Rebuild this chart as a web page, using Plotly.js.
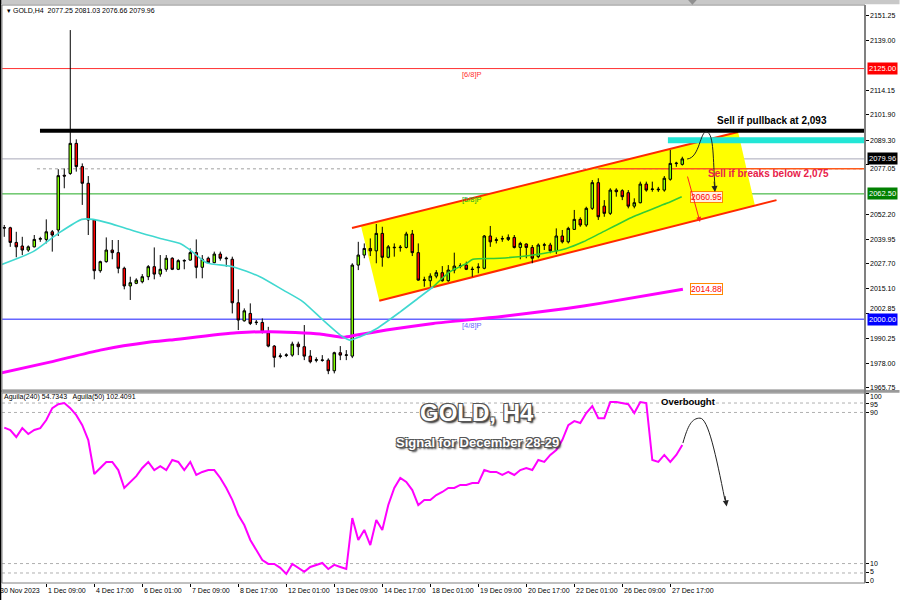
<!DOCTYPE html>
<html><head><meta charset="utf-8">
<script src="https://cdn.plot.ly/plotly-3.0.1.min.js"></script>
<style>html,body{margin:0;padding:0;background:#fff}#chart{width:900px;height:600px}</style>
</head><body><div id="chart"></div>
<script>
// ---------- DATA ----------
const barOpen  = [2045.7,2045.6,2038.3,2036.5,2034.5,2036.1,2039.9,2039.8,2043.6,2044.5,2071.8,2072.7,2087.7,2076.1,2067.8,2049.5,2024.2,2028.7,2034.5,2033.2,2025.4,2016.6,2017.9,2018.7,2021.2,2026.2,2022.5,2024.9,2030.4,2024.9,2029.0,2029.5,2033.2,2025.9,2030.4,2028.2,2032.5,2030.5,2029.9,2008.2,1999.2,2002.9,1998.3,1998.4,1993.2,1986.6,1981.4,1981.9,1982.1,1987.6,1986.3,1981.6,1979.5,1979.7,1979.6,1974.3,1983.3,1982.0,1981.6,2027.0,2032.0,2035.3,2034.1,2042.8,2030.9,2035.9,2035.7,2035.8,2042.5,2033.2,2019.4,2019.2,2021.5,2023.2,2019.2,2024.5,2026.4,2027.0,2025.0,2025.7,2025.4,2041.5,2039.3,2040.0,2039.8,2040.8,2035.8,2037.5,2035.8,2031.2,2036.9,2037.0,2034.1,2041.5,2038.6,2044.8,2049.8,2047.0,2055.3,2068.1,2056.4,2052.8,2064.4,2064.1,2063.1,2056.4,2058.1,2067.4,2064.7,2064.9,2064.4,2069.8,2077.6,2077.25];
const barHigh  = [2047.0,2046.1,2043.6,2041.1,2036.8,2042.0,2041.1,2049.8,2044.5,2074.8,2075.2,2144.2,2089.7,2077.7,2071.4,2049.8,2029.2,2040.8,2039.5,2039.5,2026.2,2021.2,2020.4,2022.5,2027.0,2035.8,2032.0,2032.0,2030.9,2029.9,2029.9,2035.3,2039.8,2032.0,2031.2,2033.7,2033.7,2031.2,2031.2,2014.9,2005.4,2007.9,1999.6,2000.4,1996.2,1987.1,1983.0,1983.0,1988.8,1988.8,1997.1,1984.6,1981.0,1982.1,1980.5,1983.8,1986.6,1984.6,2027.9,2038.6,2037.8,2040.3,2047.5,2046.1,2037.0,2037.8,2037.0,2043.6,2044.5,2037.8,2021.2,2022.9,2024.5,2026.5,2027.0,2033.2,2027.9,2028.7,2026.2,2027.9,2042.0,2046.5,2040.8,2041.6,2042.3,2042.0,2038.6,2037.8,2037.0,2037.8,2038.1,2038.1,2045.3,2044.5,2046.1,2054.5,2050.8,2056.1,2069.4,2070.3,2059.4,2065.3,2065.3,2064.8,2064.4,2060.3,2068.6,2068.6,2068.6,2066.0,2071.4,2084.4,2078.5,2081.03];
const barLow   = [2041.1,2036.1,2030.9,2032.0,2033.6,2035.8,2038.6,2037.8,2033.7,2041.5,2065.3,2072.0,2073.6,2057.0,2042.0,2019.9,2023.2,2028.2,2029.9,2022.9,2014.9,2009.6,2017.5,2017.9,2019.5,2019.9,2021.2,2023.7,2024.5,2024.5,2024.9,2029.2,2020.4,2020.4,2027.9,2027.9,2029.2,2026.2,2002.9,1994.6,1998.8,1997.1,1997.1,1992.9,1986.0,1976.0,1980.5,1981.1,1981.3,1982.1,1979.6,1978.0,1978.5,1978.8,1972.6,1973.0,1979.6,1979.6,1980.6,2024.5,2030.4,2031.5,2027.9,2026.2,2030.4,2031.2,2033.7,2035.3,2031.5,2019.2,2016.2,2016.2,2020.4,2018.7,2018.7,2022.9,2025.4,2024.5,2021.2,2022.9,2024.9,2036.1,2037.8,2038.6,2039.0,2035.3,2029.9,2030.4,2027.9,2030.4,2034.5,2032.9,2032.5,2037.8,2037.8,2044.5,2046.1,2046.1,2054.5,2049.5,2051.1,2052.0,2061.1,2059.4,2055.3,2055.3,2057.8,2063.6,2063.6,2063.5,2063.6,2069.1,2076.0,2076.66];
const barClose = [2045.5,2038.3,2036.1,2034.5,2036.1,2039.8,2040.2,2043.6,2042.0,2071.6,2071.4,2087.7,2076.1,2067.8,2049.5,2024.2,2028.7,2034.5,2033.2,2025.4,2016.6,2018.2,2019.5,2021.2,2026.2,2022.5,2024.9,2030.4,2024.9,2029.2,2029.3,2033.2,2025.9,2029.9,2028.2,2032.5,2030.4,2030.2,2008.2,1999.6,2004.2,1997.9,1998.5,1993.7,1986.6,1981.0,1981.7,1982.2,1987.6,1986.3,1981.6,1978.8,1979.8,1979.5,1974.3,1983.3,1982.1,1982.2,2027.0,2032.0,2035.3,2034.1,2042.8,2030.9,2036.1,2035.7,2035.9,2042.5,2033.2,2019.5,2019.6,2021.5,2023.2,2019.2,2024.5,2026.5,2026.6,2024.9,2024.8,2026.0,2041.5,2038.6,2039.6,2040.2,2040.8,2035.8,2037.8,2035.8,2030.4,2037.0,2037.1,2034.1,2041.5,2038.6,2045.3,2049.8,2047.0,2055.3,2068.1,2051.1,2052.8,2064.4,2063.6,2061.1,2056.4,2058.1,2067.4,2064.4,2064.9,2064.6,2070.3,2077.7,2077.8,2079.96];

// fast MA (turquoise, then seen through the channel fill as green)
const fastMaIdx = [-0.7,4.8,9.0,12.9,14.8,17.6,21.5,26.0,29.3,31.0,33.7,38.1,42.6,46.5,49.8,53.1,56.0,57.6,59.3,62.1,66.0,69.3,71.5];
const fastMaVal = [2027.0,2033.7,2042.8,2049.8,2049.8,2047.8,2044.1,2040.3,2037.8,2034.5,2028.2,2026.2,2021.2,2014.5,2008.7,1999.6,1992.1,1989.6,1991.3,1995.4,2003.7,2011.2,2016.2];
const fastMa2Idx = [71.5,74.3,77.1,78.1,82.6,88.1,93.7,96.5,99.3,104.8,110.4,112.9];
const fastMa2Val = [2016.2,2023.7,2027.9,2029.9,2030.4,2032.0,2035.3,2038.6,2042.8,2051.1,2057.8,2061.1];
// slow MA (magenta)
const slowMaIdx = [-0.7,7.6,16.0,24.3,27.6,38.7,44.3,52.6,56.5,58.7,63.7,71.5,82.6,93.7,99.3,113.1];
const slowMaVal = [1973.1,1978.6,1984.6,1988.6,1989.6,1993.2,1993.8,1992.6,1991.0,1992.1,1994.6,1997.9,2001.2,2005.4,2007.9,2014.9];

// Aguila oscillator, one value per bar
const aguila = [82,80.7,77,81.7,78.6,80.7,81.7,86,92.3,94.4,95,92.3,88.6,83.3,75.4,57.4,60.6,63.8,63.8,59.5,50,53.2,56.3,60.6,63.8,59.5,61.6,59.5,64.8,63.8,59.5,63.8,56.9,58.5,59.5,59.5,55.3,50,43.7,35.7,30.4,22.5,17.2,11.9,9.8,9.8,7.7,4.5,9.8,7.7,5.6,8.2,9.3,10.3,7.1,9.3,8.2,7.1,34.1,22.5,27.8,19.8,33.1,27.8,41,50,55.3,53.2,48.9,41,43.7,43.7,46.3,47.9,50,50,51.6,51.6,52.6,52.6,59.5,58.5,58.5,56.9,58.5,56.9,59.5,60.6,59.5,64.8,63.8,67.5,70.1,75.4,83.3,85.4,84.4,89.7,93.4,87,87,95.5,95.5,95,94.4,89.7,95.5,95,64.8,63.8,67.5,63.8,67.5,72.8];

const tickIdx  = [-1,7,15,23,31,39,47,55,63,71,79,87,95,103,111];
const tickText = ["30 Nov 2023","1 Dec 09:00","4 Dec 17:00","6 Dec 01:00","7 Dec 09:00","8 Dec 17:00","12 Dec 01:00","13 Dec 09:00","14 Dec 17:00","18 Dec 01:00","19 Dec 09:00","20 Dec 17:00","22 Dec 01:00","26 Dec 09:00","27 Dec 17:00"];
const priceTicks = [2151.25,2139.00,2114.15,2101.90,2089.30,2077.05,2052.20,2039.95,2027.70,2015.10,2002.85,1990.25,1978.00,1965.75];
const oscTicks = [100,95,90,10,5,0];
const oscLevels = [95,90,10,5];

const murreyPrices = [2125.00,2062.50,2000.00];
const murreyNames  = ["[6/8]P","[5/8]P","[4/8]P"];
const sellPullbackLevel = 2094.0;
const pullbackZone = 2089.2;
const breakLevel = 2075.0;
const lastPrice = 2079.96;
const fastMaLast = 2060.95;
const slowMaLast = 2014.88;
const header = "GOLD,H4  2077.25 2081.03 2076.66 2079.96";
const oscHeader = "Aguila(240) 54.7343   Aguila(50) 102.4091";

// channel (bar index, price)
const chanUpper = [[57.95,2045.5],[122.3,2093.4]];
const chanLower = [[62.5,2009.2],[128.7,2059.4]];
const chanFill  = [[59.45,2046.5],[122.3,2093.4],[125.1,2056.7],[62.5,2009.2]];
// projected paths
const pullbackCurve = [[113.8,2079.9],[115.95,2080.4],[115.95,2094.4],[117.1,2093.4],[118.3,2092.4],[118.1,2079.4],[118.45,2066.0]];
const oscCurve = [[113.1,73.8],[113.95,83.3],[114.6,87.0],[115.95,87.0],[117.3,87.0],[118.6,67.5],[120.1,43.7]];
const breakArrow = [[113.8,2071.9],[115.95,2048.5]];

// ---------- BUILD ----------
const FONT = 'Liberation Sans, Arial, sans-serif';
const barIdx = barOpen.map((_, i) => i);
const xr = [-0.38, 143.45];
const xPaper = t => (t - xr[0]) / (xr[1] - xr[0]);

const traces = [
  {type:'scatter', mode:'lines', x:slowMaIdx, y:slowMaVal, line:{color:'#ff00ff', width:3, shape:'spline', smoothing:0.6}, hoverinfo:'skip'},
  {type:'scatter', mode:'lines', x:fastMaIdx, y:fastMaVal, line:{color:'#40d8d0', width:1.6, shape:'spline', smoothing:0.6}, hoverinfo:'skip'},
  {type:'scatter', mode:'lines', x:fastMa2Idx, y:fastMa2Val, line:{color:'#33cc33', width:1.6, shape:'spline', smoothing:0.6}, hoverinfo:'skip'},
  {type:'candlestick', x:barIdx, open:barOpen, high:barHigh, low:barLow, close:barClose,
   increasing:{line:{color:'#000000', width:1}, fillcolor:'#80ff00'},
   decreasing:{line:{color:'#000000', width:1}, fillcolor:'#ff0000'},
   whiskerwidth:0, hoverinfo:'skip'},
  {type:'scatter', mode:'lines', x:barIdx, y:aguila, xaxis:'x', yaxis:'y2', line:{color:'#ff00ff', width:2}, hoverinfo:'skip'}
];

function pathOf(pts){ let s = 'M ' + pts[0][0] + ',' + pts[0][1];
  for (let i = 1; i < pts.length; i += 3) s += ' C ' + pts[i][0]+','+pts[i][1]+' '+pts[i+1][0]+','+pts[i+1][1]+' '+pts[i+2][0]+','+pts[i+2][1];
  return s; }
function polyOf(pts){ return 'M ' + pts.map(p => p[0]+','+p[1]).join(' L ') + ' Z'; }

const shapes = [];
shapes.push({type:'path', xref:'x', yref:'y', path:polyOf(chanFill), fillcolor:'#ffff00', line:{width:0}, layer:'below'});
const murreyColors = ['#ff3030','#22aa22','#6666ff'];
murreyPrices.forEach((p,i)=>shapes.push({type:'line', xref:'x domain', yref:'y', x0:0, x1:1, y0:p, y1:p, line:{color:murreyColors[i], width:i===2?1.5:1}, layer:'below'}));
shapes.push({type:'line', xref:'x domain', yref:'y', x0:0, x1:1, y0:lastPrice, y1:lastPrice, line:{color:'#a8a8b8', width:1}, layer:'below'});
shapes.push({type:'line', xref:'x', yref:'y', x0:5.45, x1:xr[1], y0:breakLevel, y1:breakLevel, line:{color:'#a0a0a0', width:1, dash:'dot'}, layer:'below'});
shapes.push({type:'line', xref:'x', yref:'y', x0:99, x1:xr[1], y0:breakLevel, y1:breakLevel, line:{color:'#ff5a1a', width:1.5}, layer:'below'});
shapes.push({type:'line', xref:'x', yref:'y', x0:chanUpper[0][0], x1:chanUpper[1][0], y0:chanUpper[0][1], y1:chanUpper[1][1], line:{color:'#ff2a00', width:2}, layer:'below'});
shapes.push({type:'line', xref:'x', yref:'y', x0:chanLower[0][0], x1:chanLower[1][0], y0:chanLower[0][1], y1:chanLower[1][1], line:{color:'#ff2a00', width:2}, layer:'below'});
shapes.push({type:'line', xref:'x', yref:'y', x0:110.6, x1:xr[1], y0:pullbackZone, y1:pullbackZone, line:{color:'#22e6d6', width:6}, layer:'above'});
shapes.push({type:'line', xref:'x', yref:'y', x0:5.95, x1:xr[1], y0:sellPullbackLevel, y1:sellPullbackLevel, line:{color:'#000000', width:4}, layer:'above'});
shapes.push({type:'path', xref:'x', yref:'y', path:pathOf(pullbackCurve), line:{color:'#222222', width:1}, layer:'above'});
shapes.push({type:'path', xref:'x', yref:'y2', path:pathOf(oscCurve), line:{color:'#222222', width:1}, layer:'above'});
oscLevels.forEach(v=>shapes.push({type:'line', xref:'x domain', yref:'y2', x0:0, x1:1, y0:v, y1:v, line:{color:'#b0b0b0', width:1, dash:'dot'}, layer:'below'}));
// frames
shapes.push({type:'rect', xref:'paper', yref:'paper', x0:-0.01, x1:1.04, y0:1.0015, y1:1.009, fillcolor:'#c8c8c8', line:{width:0}});
shapes.push({type:'path', xref:'paper', yref:'paper', path:'M 0.795,1.0085 L 0.805,1.0085 L 0.8,1.0005 Z', fillcolor:'#909090', line:{width:0}});
shapes.push({type:'rect', xref:'x domain', yref:'y domain', x0:0, x1:1, y0:0, y1:1, line:{color:'#808080', width:1}});
shapes.push({type:'rect', xref:'x domain', yref:'y2 domain', x0:0, x1:1, y0:0, y1:1, line:{color:'#808080', width:1}});
shapes.push({type:'rect', xref:'paper', yref:'paper', x0:-0.01, x1:1.04, y0:0.3290, y1:0.3337, fillcolor:'#9a9a9a', line:{width:0}});
shapes.push({type:'line', xref:'paper', yref:'paper', x0:1, x1:1, y0:0, y1:1, line:{color:'#808080', width:2}});
shapes.push({type:'line', xref:'paper', yref:'paper', x0:-0.002, x1:-0.002, y0:-0.03, y1:1.01, line:{color:'#000', width:2}});

const ann = [];
const small = {family:FONT, size:7, color:'#000'};
ann.push({xref:'paper', yref:'paper', x:0.003, y:0.99, xanchor:'left', yanchor:'middle', text:'▾ ' + header, showarrow:false, font:small});
ann.push({xref:'paper', yref:'paper', x:0.0, y:0.322, xanchor:'left', yanchor:'middle', text:oscHeader, showarrow:false, font:small});
murreyNames.forEach((n,i)=>ann.push({xref:'x', yref:'y', x:77.9, y:murreyPrices[i]-3.0, text:n, showarrow:false, font:{family:FONT, size:7.5, color:murreyColors[i]}}));
// right-axis price scale labels (the two next to coloured tags are nudged clear of them)
const priceLabelShift = {"2077.05":-4, "2002.85":5};
priceTicks.forEach(p=>ann.push({xref:'paper', yref:'y', x:1, xshift:3, y:p, yshift:priceLabelShift[p.toFixed(2)]||0, xanchor:'left', yanchor:'middle', text:p.toFixed(2), showarrow:false, font:small}));
// right-axis price tags
[[murreyPrices[0],'#ff0000'],[lastPrice,'#000000'],[murreyPrices[1],'#008000'],[murreyPrices[2],'#0000ff']].forEach(([p,c])=>
  ann.push({xref:'paper', yref:'y', x:1, xshift:2, y:p, xanchor:'left', yanchor:'middle', text:p.toFixed(2), showarrow:false, bgcolor:c, borderpad:1, font:{family:FONT, size:7.5, color:'#ffffff'}}));
// oscillator scale labels (staggered like the terminal)
const oscLabelShift = [-3,-1,0,0,1,2.4];
oscTicks.forEach((v,i)=>ann.push({xref:'paper', yref:'y2', x:1, xshift:3, y:v, yshift:oscLabelShift[i], xanchor:'left', yanchor:'middle', text:String(v), showarrow:false, font:small}));
// MA value tags
ann.push({xref:'x', yref:'y', x:114.3, y:fastMaLast, xanchor:'left', yanchor:'middle', text:fastMaLast.toFixed(2), showarrow:false, font:{family:FONT, size:8.5, color:'#ff0000'}, bgcolor:'#fff0e0', bordercolor:'#ff8800', borderwidth:1, borderpad:0});
ann.push({xref:'x', yref:'y', x:114.2, y:slowMaLast, xanchor:'left', yanchor:'middle', text:slowMaLast.toFixed(2), showarrow:false, font:{family:FONT, size:8.5, color:'#ff0000'}, bgcolor:'#ffffff', bordercolor:'#ff8800', borderwidth:1, borderpad:0});
// notes
ann.push({xref:'x', yref:'y', x:127.9, y:2099.0, text:'Sell if pullback at 2,093', showarrow:false, font:{family:FONT, size:10, color:'#000', weight:'bold'}});
ann.push({xref:'x', yref:'y', x:127.4, y:2072.8, text:'Sell if breaks below 2,075', showarrow:false, font:{family:FONT, size:10, color:'#e8204a', weight:'bold'}});
ann.push({xref:'x', yref:'y', x:pullbackCurve[6][0], y:pullbackCurve[6][1]-2.6, ax:-1, ay:-12, text:'', showarrow:true, arrowhead:2, arrowsize:1.2, arrowwidth:1, arrowcolor:'#222'});
ann.push({xref:'x', yref:'y', x:breakArrow[1][0], y:breakArrow[1][1], axref:'x', ayref:'y', ax:breakArrow[0][0], ay:breakArrow[0][1], text:'', showarrow:true, arrowhead:2, arrowsize:1, arrowwidth:1, arrowcolor:'#ff2020'});
ann.push({xref:'x', yref:'y2', x:oscCurve[6][0]+0.3, y:oscCurve[6][1]-3.5, ax:-2, ay:-12, text:'', showarrow:true, arrowhead:2, arrowsize:1.2, arrowwidth:1, arrowcolor:'#222'});
const outline = '-1px -1px 0 #555, 1px -1px 0 #555, -1px 1px 0 #555, 1px 1px 0 #555, 2px 2px 2px #222';
ann.push({xref:'x', yref:'y2', x:78.8, y:90.2, text:'GOLD, H4', showarrow:false, font:{family:FONT, size:24, color:'#ffffff', weight:'bold', shadow:outline}});
ann.push({xref:'x', yref:'y2', x:78.8, y:74.3, text:'Signal for December 28-29', showarrow:false, font:{family:FONT, size:13, color:'#ffffff', weight:'bold', shadow:outline}});
ann.push({xref:'x', yref:'y2', x:114.1, y:96.0, text:'Overbought', showarrow:false, font:{family:FONT, size:9.5, color:'#000', weight:'bold'}});
// time labels (left aligned at their tick, like the terminal)
tickIdx.forEach((t,i)=>ann.push({xref:'paper', yref:'paper', x:xPaper(t), y:-0.013, xanchor:'left', yanchor:'middle', xshift:0, text:tickText[i], showarrow:false, font:small}));

const layout = {
  width:900, height:600, margin:{l:2, r:35, t:5, b:17},
  paper_bgcolor:'#ffffff', plot_bgcolor:'#ffffff', showlegend:false,
  boxgap:0.4,
  xaxis:{range:xr, anchor:'y2', tickvals:tickIdx, ticks:'outside', ticklen:3, tickcolor:'#000', showticklabels:false,
         showgrid:false, zeroline:false, showline:false, rangeslider:{visible:false}, fixedrange:true},
  yaxis:{domain:[0.3339,1], range:[1964.7,2156.7], side:'right', tickvals:priceTicks, showticklabels:false, ticks:'outside', ticklen:3,
         tickcolor:'#000', showgrid:false, zeroline:false, showline:false, fixedrange:true},
  yaxis2:{domain:[0,0.3287], range:[-0.3,100.3], side:'right', tickvals:oscTicks, showticklabels:false, ticks:'outside', ticklen:3,
         tickcolor:'#000', showgrid:false, zeroline:false, showline:false, anchor:'x', fixedrange:true},
  shapes:shapes, annotations:ann
};
Plotly.newPlot('chart', traces, layout, {displayModeBar:false, staticPlot:true});
</script></body></html>
